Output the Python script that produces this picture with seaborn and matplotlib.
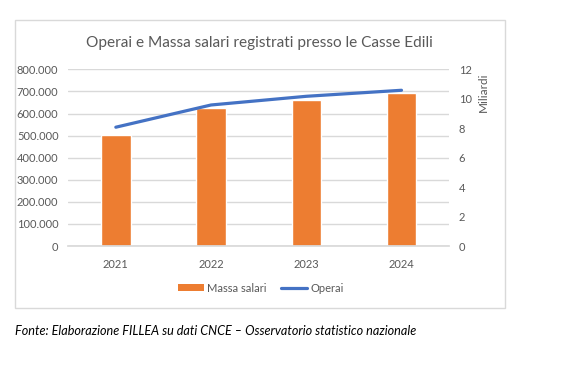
import matplotlib
matplotlib.use("Agg")
import matplotlib.pyplot as plt
import matplotlib.ticker as mticker
from matplotlib.patches import Rectangle, Patch
from matplotlib.lines import Line2D
import pandas as pd
import seaborn as sns

# Data
years = ["2021", "2022", "2023", "2024"]
massa_salari = [502000, 625000, 661000, 693000]  # bars, left axis
operai = [8.07, 9.58, 10.17, 10.58]               # line, right axis (Miliardi)

df = pd.DataFrame({"Anno": years, "Massa salari": massa_salari, "Operai": operai})

sns.set_theme(style="white")
plt.rcParams["font.family"] = ["Lato", "DejaVu Sans"]
grey = "#595959"
orange = "#ED7D31"
blue = "#4472C4"

fig = plt.figure(figsize=(5.78, 3.67), dpi=100)
ax = fig.add_axes([0.118, 0.3297, 0.659, 0.4813])

sns.barplot(data=df, x="Anno", y="Massa salari", color=orange, saturation=1,
            width=0.31, ax=ax, zorder=2)
ax.set_ylim(0, 800000)
ax.set_xlim(-0.5, len(years) - 0.5)
ax.yaxis.set_major_locator(mticker.MultipleLocator(100000))
ax.yaxis.set_major_formatter(mticker.FuncFormatter(lambda v, p: f"{v:,.0f}".replace(",", ".")))
ax.grid(axis="y", color="#d9d9d9", linewidth=1, zorder=0)
ax.set_axisbelow(True)
ax.set_xlabel("")
ax.set_ylabel("")
for s in ["top", "right", "left"]:
    ax.spines[s].set_visible(False)
ax.spines["bottom"].set_color("#d9d9d9")
ax.tick_params(axis="both", length=0, colors=grey, labelsize=8)
ax.tick_params(axis="y", pad=7)
ax.tick_params(axis="x", pad=9)

ax2 = ax.twinx()
sns.lineplot(x=df.index, y=df["Operai"], color=blue, linewidth=2.3, ax=ax2)
ax2.set_ylim(0, 12)
ax2.yaxis.set_major_locator(mticker.MultipleLocator(2))
for s in ["top", "right", "left", "bottom"]:
    ax2.spines[s].set_visible(False)
ax2.tick_params(axis="y", length=0, colors=grey, labelsize=8, pad=7)
ax2.set_ylabel("Miliardi", color=grey, fontsize=8.5)
ax2.yaxis.set_label_coords(1.075, 0.87)
ax2.set_xlim(-0.5, len(years) - 0.5)

fig.text(259 / 578, 1 - 43 / 367, "Operai e Massa salari registrati presso le Casse Edili",
         ha="center", va="center", fontsize=11.1, color=grey)

handles = [Patch(facecolor=orange, edgecolor="none"),
           Line2D([0], [0], color=blue, linewidth=2.3)]
fig.legend(handles, ["Massa salari", "Operai"], loc="center",
           bbox_to_anchor=(261 / 578, 1 - 288 / 367), ncol=2, frameon=False,
           fontsize=8, labelcolor=grey, handlelength=2.3, handleheight=0.6,
           handletextpad=0.3, columnspacing=1.3)

fig.patches.append(Rectangle((15 / 578, 1 - 308 / 367), 490 / 578, 288 / 367,
                             transform=fig.transFigure, fill=False,
                             edgecolor="#d9d9d9", linewidth=1))

fig.text(15 / 578, 1 - 331 / 367,
         "Fonte: Elaborazione FILLEA su dati CNCE \u2013 Osservatorio statistico nazionale",
         ha="left", va="center", fontsize=9.1, style="italic", color="black")

fig.savefig("out.png", dpi=100)
